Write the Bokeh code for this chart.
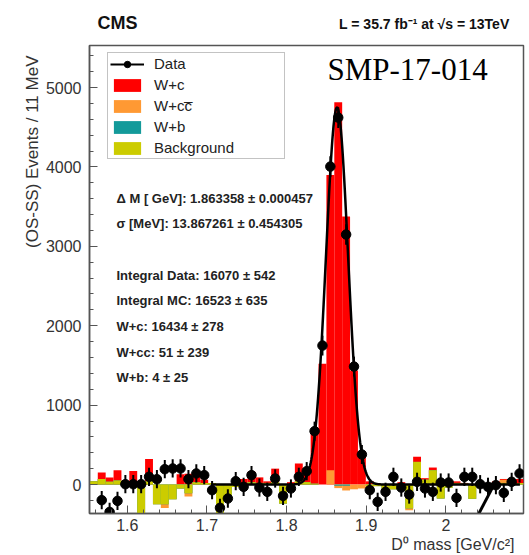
import numpy as np
from bokeh.plotting import figure
from bokeh.layouts import column
from bokeh.models import (ColumnDataSource, FixedTicker, Label, Legend, LegendItem, Range1d, Title)
from bokeh.embed import file_html
from bokeh.resources import INLINE

# ---------------- data ----------------
bin_lo = 1.553
bin_w = 0.0099
n_bins = 55

# stacked MC components per bin (events / bin)
bkg = [40, 70, 35, 50, 20, 30, -400, 40, -250, -250,
       -185, -50, -110, 30, 20, 20, -400, -150, -30, 20,
       30, 20, 20, 30, -240, 0, 40, 30, 10, 0,
       0, 0, 0, 0, 0, -20, -20, -110, -60, -20,
       -300, 285, 60, 180, -176, -40, 20, 10, -180, 20,
       -20, 20, 20, 40, 20]
w_b = [0] * 31 + [-15, -15] + [0] * 22
w_cc = [0, 0, 0, 0, 0, 0, 0, 0, 0, -45,
        0, 0, -40, 0, 0, 0, 0, 0, 0, 0,
        0, 0, 0, 0, 0, 0, 0, 0, 0, 0,
        180, -30, -60, -60, -50, -20, 0, 0, 0, 0,
        -25, 0, 0, 0, 0, 0, 0, 0, 0, 0,
        0, 0, 40, 0, 0]
w_c = [0, 80, 55, 130, 20, 140, 400, 280, 250, 295,
       185, 180, 285, 110, 40, 0, 400, 150, 50, 50,
       130, 70, 20, 170, 240, 30, 225, 150, 670, 1520,
       3720, 4860, 3450, 1496, 470, 80, 20, 110, 60, 50,
       325, 65, 20, 34, 176, 40, 20, 10, 180, 10,
       40, 20, 10, 20, 50]

# data points for bins 1..54
data_y = [-197, -345, -206, 4, 4, 4, 97, 67, 193, 202,
          202, 67, 139, 118, -71, -294, -176, 42, -29, 118,
          -38, -92, 76, -143, -50, 97, 168, 672, 1750, 4005,
          4622, 3149, 1486, 378, -71, -218, -92, 97, -38, -126,
          34, -50, -92, 25, 25, -168, 97, 97, 4, -29,
          -8, -105, 34, 139]
data_err = [115, 115, 115, 115, 115, 115, 115, 115, 115, 115,
            115, 115, 115, 115, 115, 115, 115, 115, 115, 115,
            115, 115, 115, 115, 115, 115, 115, 120, 125, 130,
            130, 130, 125, 120, 115, 115, 115, 115, 115, 115,
            115, 115, 115, 115, 115, 115, 115, 115, 115, 115,
            115, 115, 115, 115]

# fit parameters (gaussian + flat background)
fit_mean = 1.863358
fit_sigma = 0.013867261
fit_amp = 4750
fit_lo = 1.705
fit_hi = 2.093
# extra background-fit segment visible at lower right
bkgline_x = [2.037, 2.059]
bkgline_y = [-450, -30]

x_ticks = [1.6, 1.7, 1.8, 1.9, 2.0, 2.1]
y_ticks = [0, 1000, 2000, 3000, 4000, 5000]

stats_lines = ["\u0394 M [ GeV]: 1.863358 \u00b1 0.000457",
               "\u03c3 [MeV]: 13.867261 \u00b1 0.454305",
               "Integral Data: 16070 \u00b1 542",
               "Integral MC: 16523 \u00b1 635",
               "W+c: 16434 \u00b1 278",
               "W+cc: 51 \u00b1 239",
               "W+b: 4 \u00b1 25"]

# ---------------- derived ----------------
edges = bin_lo + bin_w * np.arange(n_bins + 1)
left = edges[:-1]
right = edges[1:]
centers = 0.5 * (left + right)
s1 = np.array(bkg, float)
s2 = s1 + np.array(w_b, float)
s3 = s2 + np.array(w_cc, float)
s4 = s3 + np.array(w_c, float)

X0, X1 = 1.5525, 2.0975
Y0, Y1 = -365, 5530
FL, FR, FT, FB = 89, 523, 45, 513   # frame in page px (for text placement)


def tx(px):
    return X0 + (px - FL) * (X1 - X0) / (FR - FL)


def ty(py):
    return Y1 - (py - FT) * (Y1 - Y0) / (FB - FT)


HEAD_H = 44
W = 529
H = 555 - HEAD_H

# header strip with the CMS / luminosity texts (frame aligned with the main frame)
head = figure(width=W, height=HEAD_H, output_backend="svg", toolbar_location=None,
              x_range=Range1d(X0, X1), y_range=Range1d(HEAD_H, 0),
              x_axis_type=None, y_axis_type=None,
              min_border_left=FL, min_border_right=W - FR, min_border_top=0, min_border_bottom=0)
head.outline_line_color = None
head.grid.visible = False
head.background_fill_color = "white"
head.border_fill_color = "white"
head.add_layout(Label(x=tx(97), y=32, text="CMS", text_font="Liberation Sans",
                      text_font_style="bold", text_font_size="18px", text_color="#111111"))
head.add_layout(Label(x=tx(509), y=31, text="L = 35.7 fb\u207b\u00b9 at \u221as = 13TeV",
                      text_align="right", text_font="Liberation Sans", text_font_style="bold",
                      text_font_size="14px", text_color="#111111"))

p = figure(width=W, height=H, output_backend="svg", toolbar_location=None,
           x_range=Range1d(X0, X1), y_range=Range1d(Y0, Y1),
           min_border_left=FL, min_border_right=W - FR, min_border_top=FT - HEAD_H,
           min_border_bottom=555 - FB)
p.xgrid.visible = False
p.ygrid.visible = False
p.background_fill_color = "white"
p.border_fill_color = "white"
p.outline_line_color = "#555555"
p.outline_line_width = 1.5

RED, ORANGE, TEAL, YELLOW = "#ff0000", "#ff9933", "#139a9a", "#cccc00"

r_c = p.quad(left=left, right=right, bottom=0, top=s4, fill_color=RED, line_color=None)
r_cc = p.quad(left=left, right=right, bottom=0, top=s3, fill_color=ORANGE, line_color=None)
r_b = p.quad(left=left, right=right, bottom=0, top=s2, fill_color=TEAL, line_color=None)
r_bkg = p.quad(left=left, right=right, bottom=0, top=s1, fill_color=YELLOW, line_color=None)

fx = np.linspace(fit_lo, fit_hi, 500)
fy = fit_amp * np.exp(-0.5 * ((fx - fit_mean) / fit_sigma) ** 2)
p.line(fx, fy, line_color="black", line_width=2.5)
p.line(bkgline_x, bkgline_y, line_color="black", line_width=3)

dx = centers[1:]
dy = np.array(data_y, float)
de = np.array(data_err, float)
src = ColumnDataSource(dict(x=dx, y=dy, lo=dy - de, hi=dy + de))
r_err = p.segment(x0="x", y0="lo", x1="x", y1="hi", source=src, line_color="black", line_width=2)
r_dot = p.scatter("x", "y", source=src, size=9.5, fill_color="black", line_color="black")

legend = Legend(items=[LegendItem(label="Data", renderers=[r_err, r_dot]),
                       LegendItem(label="W+c", renderers=[r_c]),
                       LegendItem(label="W+cc\u0305", renderers=[r_cc]),
                       LegendItem(label="W+b", renderers=[r_b]),
                       LegendItem(label="Background", renderers=[r_bkg])],
                location=(18, 354), margin=0, padding=2, spacing=4,
                glyph_width=34, glyph_height=16, label_height=16, label_width=128,
                label_standoff=10, label_text_font="Liberation Sans", label_text_font_size="15px",
                label_text_color="#222222", border_line_color="#888888", border_line_width=1,
                background_fill_color="white", background_fill_alpha=1.0)
p.add_layout(legend, "center")

for ax in (p.xaxis[0], p.yaxis[0]):
    ax.axis_line_color = "#555555"
    ax.axis_line_width = 1.5
    ax.major_tick_line_color = "#555555"
    ax.minor_tick_line_color = "#555555"
    ax.major_tick_in = 8
    ax.major_tick_out = 0
    ax.minor_tick_in = 4
    ax.minor_tick_out = 0
    ax.major_label_text_font = "Liberation Sans"
    ax.major_label_text_font_size = "16px"
    ax.major_label_text_color = "#333333"

p.xaxis.ticker = FixedTicker(ticks=x_ticks,
                             minor_ticks=[round(1.56 + 0.02 * i, 2) for i in range(27)])
p.xaxis.major_label_overrides = {2.0: "2"}
p.xaxis.major_label_standoff = 5
p.yaxis.ticker = FixedTicker(ticks=y_ticks, minor_ticks=[-200 + 200 * i for i in range(29)])
p.yaxis.major_label_standoff = 8

# axis titles (placed at the ends of the axes, ROOT style)
p.add_layout(Title(text="(OS-SS) Events / 11 MeV", align="right", offset=10, standoff=2,
                   text_font="Liberation Sans", text_font_style="normal",
                   text_font_size="17px", text_color="#333333"), "left")
p.add_layout(Title(text="D\u2070 mass [GeV/c\u00b2]", align="right", offset=9, standoff=0,
                   text_font="Liberation Sans", text_font_style="normal",
                   text_font_size="16px", text_color="#333333"), "below")

# texts inside the frame
p.add_layout(Label(x=tx(327), y=ty(86), text="SMP-17-014", text_font="Liberation Serif",
                   text_font_size="31px", text_color="black"))
stat_rows = [198, 223, 275, 300, 326, 352, 377]
for row, s in zip(stat_rows, stats_lines):
    p.add_layout(Label(x=tx(116), y=ty(row), text=s, text_baseline="middle",
                       text_font="Liberation Sans", text_font_style="bold",
                       text_font_size="13px", text_color="#222222"))

page = column(head, p, spacing=0)
open("out.html", "w").write(file_html(page, INLINE))
